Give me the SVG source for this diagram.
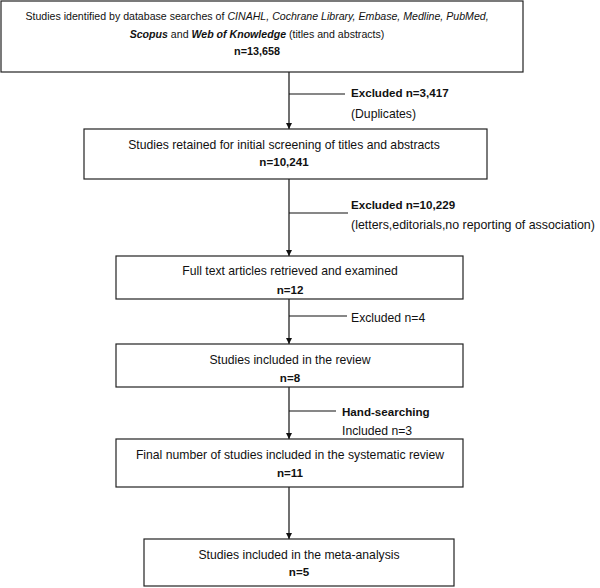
<svg xmlns="http://www.w3.org/2000/svg" width="600" height="588" viewBox="0 0 600 588">
<style>
.box{fill:#fff;stroke:#222;stroke-width:1.2}
.ln{stroke:#111;stroke-width:1.2;fill:none}
text{font-family:"Liberation Sans",Arial,sans-serif;font-size:12.2px;fill:#111}
.top{font-size:10.6px}
.c{text-anchor:middle}
.b{font-weight:bold;font-size:11.6px}
</style>
<defs>
<marker id="ah" viewBox="0 0 6 6" refX="6" refY="3" markerWidth="6" markerHeight="6" orient="auto" markerUnits="userSpaceOnUse">
<path d="M0,0 L6,3 L0,6 z" fill="#111"/>
</marker>
</defs>
<rect width="600" height="588" fill="#fff"/>
<g id="connectors">
<line class="ln" x1="289" y1="72" x2="289" y2="129" marker-end="url(#ah)"/>
<line class="ln" x1="289" y1="94" x2="345" y2="94"/>
<line class="ln" x1="289" y1="179" x2="289" y2="256" marker-end="url(#ah)"/>
<line class="ln" x1="289" y1="213" x2="348" y2="213"/>
<line class="ln" x1="289" y1="299" x2="289" y2="344" marker-end="url(#ah)"/>
<line class="ln" x1="289" y1="316" x2="347" y2="316"/>
<line class="ln" x1="289" y1="387" x2="289" y2="439" marker-end="url(#ah)"/>
<line class="ln" x1="289" y1="411" x2="336" y2="411"/>
<line class="ln" x1="289" y1="487" x2="289" y2="539" marker-end="url(#ah)"/>
</g>
<g id="n1">
<rect class="box" x="1" y="1" width="522" height="71"/>
<text class="c top" x="257" y="20">Studies identified by database searches of <tspan font-style="italic">CINAHL, Cochrane Library, Embase, Medline, PubMed,</tspan></text>
<text class="c top" x="257" y="38"><tspan font-style="italic" font-weight="bold">Scopus</tspan> and <tspan font-style="italic" font-weight="bold">Web of Knowledge</tspan> (titles and abstracts)</text>
<text class="c b" x="257" y="55" style="font-size:10.8px">n=13,658</text>
</g>
<g id="e1">
<text class="b" x="351" y="97">Excluded n=3,417</text>
<text x="351" y="118">(Duplicates)</text>
</g>
<g id="n2">
<rect class="box" x="84" y="129" width="403" height="50"/>
<text class="c" x="284" y="149">Studies retained for initial screening of titles and abstracts</text>
<text class="c b" x="284" y="166">n=10,241</text>
</g>
<g id="e2">
<text class="b" x="351" y="209">Excluded n=10,229</text>
<text x="351" y="229" style="font-size:12.4px">(letters,editorials,no reporting of association)</text>
</g>
<g id="n3">
<rect class="box" x="116" y="256" width="347" height="43"/>
<text class="c" x="290" y="275">Full text articles retrieved and examined</text>
<text class="c b" x="290" y="294">n=12</text>
</g>
<g id="e3">
<text x="351" y="322">Excluded n=4</text>
</g>
<g id="n4">
<rect class="box" x="116" y="344" width="347" height="43"/>
<text class="c" x="290" y="364">Studies included in the review</text>
<text class="c b" x="290" y="382">n=8</text>
</g>
<g id="e4">
<text class="b" x="342" y="416">Hand-searching</text>
<text x="342" y="435">Included n=3</text>
</g>
<g id="n5">
<rect class="box" x="116" y="439" width="347" height="48"/>
<text class="c" x="290" y="459">Final number of studies included in the systematic review</text>
<text class="c b" x="290" y="477">n=11</text>
</g>
<g id="n6">
<rect class="box" x="144" y="539" width="310" height="47"/>
<text class="c" x="299" y="559">Studies included in the meta-analysis</text>
<text class="c b" x="299" y="576">n=5</text>
</g>
</svg>
